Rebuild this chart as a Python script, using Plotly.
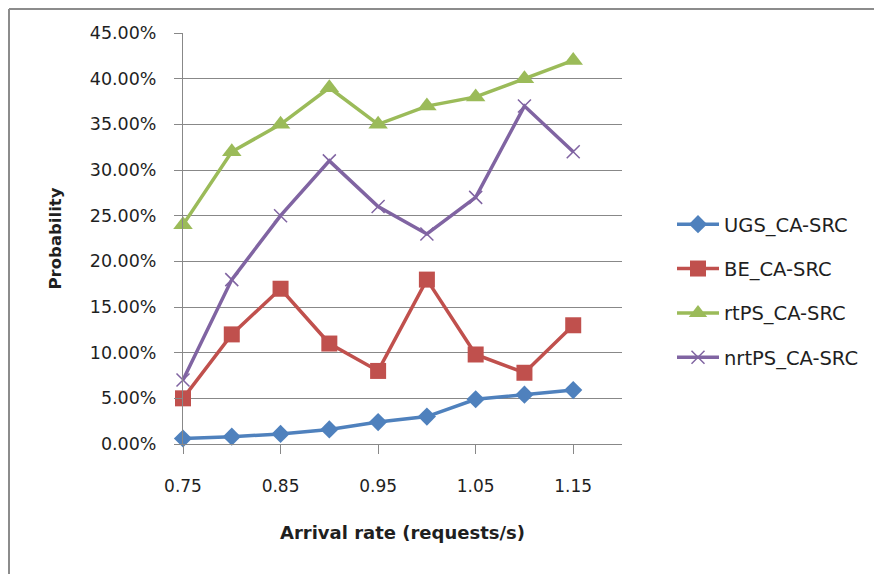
import plotly.graph_objects as go

arrival_rate = [0.75, 0.80, 0.85, 0.90, 0.95, 1.00, 1.05, 1.10, 1.15]
ugs = [0.006, 0.008, 0.011, 0.016, 0.024, 0.030, 0.049, 0.054, 0.059]
be = [0.050, 0.120, 0.170, 0.110, 0.080, 0.180, 0.098, 0.078, 0.130]
rtps = [0.240, 0.320, 0.350, 0.390, 0.350, 0.370, 0.380, 0.400, 0.420]
nrtps = [0.070, 0.180, 0.250, 0.310, 0.260, 0.230, 0.270, 0.370, 0.320]
series_names = ["UGS_CA-SRC", "BE_CA-SRC", "rtPS_CA-SRC", "nrtPS_CA-SRC"]
x_tick_vals = [0.75, 0.85, 0.95, 1.05, 1.15]
x_tick_text = ["0.75", "0.85", "0.95", "1.05", "1.15"]
y_tick_vals = [0, 0.05, 0.10, 0.15, 0.20, 0.25, 0.30, 0.35, 0.40, 0.45]

FONT = "DejaVu Sans"
TXT = "#1f1f1f"
GRID = "#888888"

# page body margin offset in the browser
OFF = 8
W, H = 882 - OFF, 574 - OFF

styles = [
    dict(color="#4F81BD", symbol="diamond", size=14, lw=0),
    dict(color="#C0504D", symbol="square", size=16, lw=0),
    dict(color="#9BBB59", symbol="triangle-up", size=17, lw=0),
    dict(color="#8064A2", symbol="x-thin", size=13, lw=1.5),
]

fig = go.Figure()
for name, vals, st in zip(series_names, [ugs, be, rtps, nrtps], styles):
    fig.add_trace(go.Scatter(
        x=arrival_rate, y=vals, name=name, mode="lines+markers",
        legendgroup=name,
        line=dict(color=st["color"], width=3.5),
        marker=dict(symbol=st["symbol"], size=st["size"], color=st["color"],
                    line=dict(color=st["color"], width=st["lw"])),
        cliponaxis=False,
    ))

# plot area in screen pixels
L, R, T, B = 183, 622, 33, 444
def px_x(v):
    return (v - L) / (R - L)
def px_y(v):
    return (B - v) / (B - T)

fig.add_shape(type="line", xref="paper", yref="paper",
              x0=px_x(9), x1=px_x(890), y0=px_y(9), y1=px_y(9),
              line=dict(color="#8c8c8c", width=2))
fig.add_shape(type="line", xref="paper", yref="paper",
              x0=px_x(9), x1=px_x(9), y0=px_y(9), y1=px_y(580),
              line=dict(color="#8c8c8c", width=2))

fig.update_layout(
    width=W, height=H,
    margin=dict(l=L - OFF, r=882 - R, t=T - OFF, b=574 - B),
    paper_bgcolor="white", plot_bgcolor="white",
    font=dict(family=FONT, color=TXT, size=17),
    showlegend=True,
    legend=dict(
        x=px_x(672), y=px_y(205), xanchor="left", yanchor="top",
        font=dict(family=FONT, size=19.5, color=TXT),
        tracegroupgap=16, itemwidth=42, bgcolor="rgba(0,0,0,0)",
    ),
    xaxis=dict(
        range=[0.75, 1.20], tickvals=x_tick_vals, ticktext=x_tick_text,
        showgrid=False, zeroline=False,
        showline=True, linecolor=GRID, linewidth=1,
        ticks="outside", ticklen=9, tickcolor=GRID, tickwidth=1,
        ticklabelstandoff=18,
        tickfont=dict(family=FONT, size=17, color=TXT),
        title=dict(text="<b>Arrival rate (requests/s)</b>", standoff=30,
                   font=dict(family=FONT, size=18, color=TXT)),
    ),
    yaxis=dict(
        range=[0, 0.45], tickvals=y_tick_vals, tickformat=".2%",
        showgrid=True, gridcolor=GRID, gridwidth=1, zeroline=False,
        showline=True, linecolor=GRID, linewidth=1,
        ticks="outside", ticklen=8, tickcolor=GRID, tickwidth=1,
        ticklabelstandoff=14,
        tickfont=dict(family=FONT, size=17.5, color=TXT),
        title=dict(text="<b>Probability</b>", standoff=23,
                   font=dict(family=FONT, size=16.5, color=TXT)),
    ),
)

fig.write_html("out.html")
